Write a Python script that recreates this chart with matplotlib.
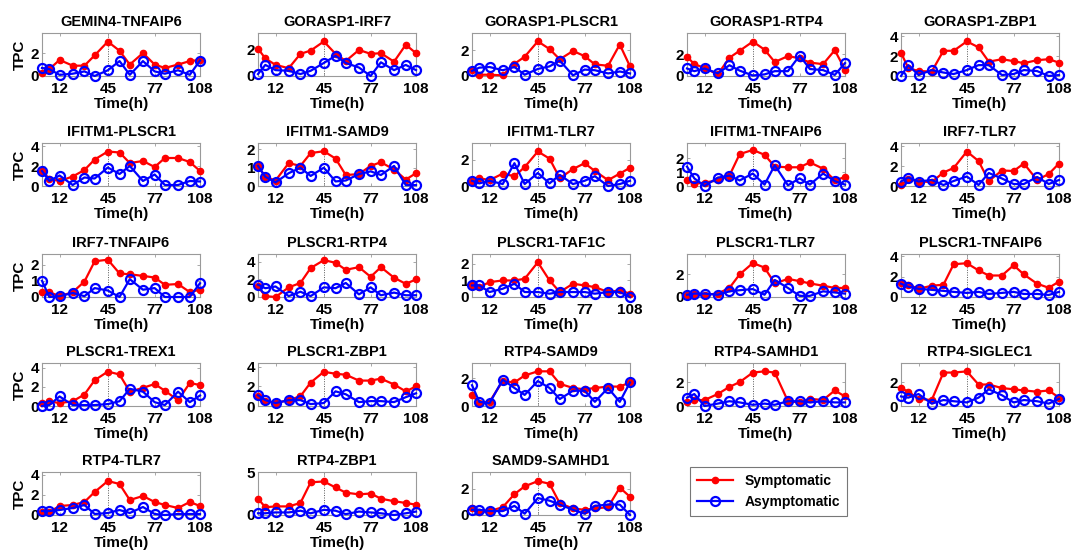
import matplotlib
matplotlib.use("Agg")
import matplotlib.pyplot as plt
from matplotlib.lines import Line2D

plt.rcParams['font.family'] = ['Liberation Sans', 'DejaVu Sans']
plt.rcParams['font.weight'] = 'bold'

hours = [0, 5, 12, 21, 29, 36, 45, 53, 60, 69, 77, 84, 93, 101, 108]
xtick_labels = [12, 45, 77, 108]

titles = ["GEMIN4-TNFAIP6", "GORASP1-IRF7", "GORASP1-PLSCR1", "GORASP1-RTP4", "GORASP1-ZBP1",
          "IFITM1-PLSCR1", "IFITM1-SAMD9", "IFITM1-TLR7", "IFITM1-TNFAIP6", "IRF7-TLR7",
          "IRF7-TNFAIP6", "PLSCR1-RTP4", "PLSCR1-TAF1C", "PLSCR1-TLR7", "PLSCR1-TNFAIP6",
          "PLSCR1-TREX1", "PLSCR1-ZBP1", "RTP4-SAMD9", "RTP4-SAMHD1", "RTP4-SIGLEC1",
          "RTP4-TLR7", "RTP4-ZBP1", "SAMD9-SAMHD1"]

symptomatic = [
    [0.3, 0.6, 1.4, 0.9, 0.9, 1.8, 3.0, 2.2, 1.0, 2.0, 1.0, 0.7, 1.0, 1.3, 1.4],
    [2.1, 1.35, 0.85, 0.6, 1.7, 1.95, 2.65, 1.7, 1.15, 2.0, 1.7, 1.75, 1.1, 2.4, 1.75],
    [0.5, 0.1, 0.1, 0.05, 0.95, 1.5, 2.7, 2.1, 1.3, 1.95, 1.55, 0.9, 0.8, 2.45, 0.75],
    [1.8, 1.1, 0.75, 0.15, 1.7, 2.35, 3.2, 2.45, 1.3, 1.85, 1.65, 1.25, 1.1, 2.4, 0.6],
    [2.35, 0.8, 0.5, 0.45, 2.55, 2.55, 3.5, 2.9, 1.45, 1.7, 1.5, 1.3, 1.6, 1.7, 1.35],
    [1.55, 0.7, 0.5, 0.95, 1.6, 2.65, 3.45, 3.35, 2.3, 2.5, 1.9, 2.8, 2.8, 2.4, 1.5],
    [1.1, 0.5, 0.3, 1.25, 1.1, 1.8, 1.9, 1.5, 0.6, 0.65, 1.1, 1.3, 0.9, 0.35, 0.7],
    [0.4, 0.6, 0.45, 0.95, 0.75, 1.45, 2.65, 2.1, 0.6, 1.3, 1.75, 1.15, 0.45, 0.95, 1.4],
    [0.4, 0.15, 0.25, 0.4, 0.75, 2.3, 2.6, 2.25, 1.4, 1.35, 1.35, 1.7, 1.25, 0.4, 0.65],
    [0.1, 0.7, 0.45, 0.4, 1.35, 1.8, 3.45, 2.5, 0.5, 1.55, 1.5, 2.25, 0.6, 1.2, 2.25],
    [0.3, 0.3, 0.05, 0.3, 0.95, 2.2, 2.3, 1.45, 1.4, 1.3, 1.2, 0.75, 0.8, 0.3, 0.45],
    [1.2, 0.1, 0.0, 1.1, 1.6, 3.3, 4.2, 3.9, 3.1, 3.4, 2.3, 3.4, 2.2, 1.5, 2.0],
    [0.7, 0.6, 0.9, 1.0, 1.0, 1.1, 2.1, 1.0, 0.3, 0.8, 0.7, 0.6, 0.3, 0.4, 0.2],
    [0.2, 0.3, 0.2, 0.3, 0.8, 2.0, 3.0, 2.6, 1.2, 1.6, 1.4, 1.2, 1.0, 0.8, 0.8],
    [1.4, 1.2, 0.8, 1.1, 1.2, 3.2, 3.3, 2.6, 2.1, 2.1, 3.1, 2.2, 1.3, 0.9, 1.5],
    [0.3, 0.5, 0.3, 0.5, 1.2, 2.7, 3.6, 3.3, 1.5, 1.9, 2.3, 1.6, 0.6, 2.4, 2.2],
    [1.0, 0.5, 0.3, 0.6, 1.0, 2.4, 3.5, 3.3, 3.2, 2.6, 2.6, 2.8, 2.2, 1.5, 2.0],
    [0.8, 0.2, 0.3, 1.8, 1.7, 2.2, 2.5, 2.5, 1.6, 1.3, 1.2, 1.3, 1.4, 1.4, 1.7],
    [0.3, 0.5, 0.5, 1.0, 1.6, 2.0, 2.8, 2.9, 2.8, 0.4, 0.3, 0.6, 0.5, 1.3, 0.8],
    [1.5, 1.2, 0.6, 0.5, 2.8, 2.8, 2.9, 1.8, 1.8, 1.5, 1.4, 1.3, 1.2, 1.3, 0.7],
    [0.3, 0.3, 0.9, 1.0, 1.3, 2.3, 3.4, 3.1, 1.5, 1.9, 1.3, 1.0, 0.7, 1.3, 0.9],
    [1.9, 0.9, 1.0, 1.0, 1.4, 3.8, 3.9, 3.2, 2.6, 2.4, 2.5, 1.9, 1.6, 1.4, 1.2],
    [0.5, 0.2, 0.3, 0.6, 1.6, 2.2, 2.6, 2.4, 0.9, 0.5, 0.4, 0.5, 0.6, 2.1, 1.4],
]

asymptomatic = [
    [0.7, 0.6, 0.1, 0.2, 0.4, 0.0, 0.5, 1.3, 0.1, 1.3, 0.4, 0.2, 0.5, 0.1, 1.35],
    [0.15, 0.85, 0.45, 0.4, 0.15, 0.4, 1.0, 1.55, 1.0, 0.65, 0.0, 1.05, 0.45, 0.85, 0.45],
    [0.4, 0.65, 0.7, 0.45, 0.7, 0.1, 0.55, 0.75, 1.2, 0.05, 0.5, 0.45, 0.2, 0.35, 0.2],
    [0.7, 0.45, 0.7, 0.25, 1.0, 0.5, 0.05, 0.15, 0.45, 0.45, 1.9, 0.65, 0.55, 0.1, 1.2],
    [0.0, 1.1, 0.1, 0.6, 0.35, 0.2, 0.6, 1.1, 1.1, 0.1, 0.2, 0.6, 0.5, 0.0, 0.1],
    [1.5, 0.5, 1.05, 0.1, 0.85, 0.75, 1.85, 1.2, 2.0, 0.5, 1.15, 0.1, 0.1, 0.5, 0.45],
    [1.1, 0.5, 0.2, 0.7, 1.0, 0.55, 1.0, 0.25, 0.3, 0.65, 0.8, 0.6, 1.1, 0.05, 0.05],
    [0.4, 0.2, 0.4, 0.15, 1.75, 0.15, 1.0, 0.2, 0.85, 0.15, 0.4, 0.75, 0.0, 0.15, 0.4],
    [1.4, 0.55, 0.0, 0.6, 0.75, 0.4, 0.9, 0.1, 1.5, 0.05, 0.55, 0.1, 0.9, 0.35, 0.1],
    [0.45, 0.85, 0.45, 0.6, 0.1, 0.5, 0.95, 0.1, 1.3, 0.75, 0.2, 0.2, 0.9, 0.2, 0.6],
    [1.0, 0.0, 0.05, 0.25, 0.05, 0.55, 0.4, 0.0, 1.1, 0.45, 0.55, 0.0, 0.0, 0.0, 0.85],
    [1.4, 1.0, 1.2, 0.1, 0.6, 0.1, 1.1, 1.0, 1.6, 0.3, 1.1, 0.2, 0.5, 0.2, 0.2],
    [0.7, 0.7, 0.3, 0.5, 0.8, 0.3, 0.3, 0.2, 0.3, 0.3, 0.3, 0.2, 0.3, 0.3, 0.0],
    [0.2, 0.3, 0.3, 0.2, 0.5, 0.6, 0.7, 0.2, 1.5, 0.8, 0.1, 0.1, 0.5, 0.4, 0.3],
    [1.3, 1.0, 0.8, 0.7, 0.6, 0.5, 0.4, 0.5, 0.3, 0.4, 0.5, 0.3, 0.3, 0.2, 0.5],
    [0.0, 0.1, 1.0, 0.1, 0.1, 0.1, 0.2, 0.5, 1.8, 1.5, 0.4, 0.1, 1.5, 0.4, 1.1],
    [1.1, 0.6, 0.3, 0.6, 0.6, 0.2, 0.3, 1.5, 1.2, 0.4, 0.5, 0.5, 0.4, 0.9, 1.3],
    [1.5, 0.3, 0.2, 1.9, 1.3, 0.8, 1.8, 1.3, 0.5, 1.1, 1.1, 0.3, 1.3, 0.3, 1.7],
    [0.7, 1.0, 0.0, 0.2, 0.4, 0.3, 0.1, 0.2, 0.1, 0.4, 0.4, 0.3, 0.4, 0.3, 0.3],
    [0.8, 0.7, 1.0, 0.2, 0.5, 0.4, 0.3, 0.7, 1.4, 0.9, 0.3, 0.5, 0.4, 0.2, 0.6],
    [0.4, 0.4, 0.5, 0.7, 1.0, 0.1, 0.2, 0.5, 0.2, 0.8, 0.1, 0.0, 0.1, 0.1, 0.1],
    [0.2, 0.2, 0.3, 0.3, 0.5, 0.2, 0.6, 0.5, 0.1, 0.4, 0.3, 0.2, 0.0, 0.2, 0.4],
    [0.4, 0.4, 0.3, 0.3, 0.7, 0.1, 1.3, 1.1, 0.8, 0.4, 0.1, 0.7, 0.8, 0.8, 0.0],
]

yticks_list = [
    [0, 2], [0, 2], [0, 2], [0, 2], [0, 2, 4],
    [0, 2, 4], [0, 1, 2], [0, 2], [0, 1, 2], [0, 2, 4],
    [0, 1, 2], [0, 2, 4], [0, 1, 2], [0, 2], [0, 2, 4],
    [0, 2, 4], [0, 2, 4], [0, 2], [0, 2], [0, 2],
    [0, 2, 4], [0, 5], [0, 2],
]
ytops = [3.75, 3.3, 3.35, 4.0, 4.35,
         4.3, 2.35, 3.3, 3.1, 4.3,
         2.65, 4.9, 2.6, 3.8, 4.2,
         4.5, 4.4, 3.1, 3.6, 3.6,
         4.3, 4.9, 3.3]

W, H = 1072, 555
fig = plt.figure(figsize=(W / 100, H / 100), dpi=100)

col_left = [42, 258, 472, 687, 901]
ax_w = 158
row_top = [33, 143, 254, 363, 472]
ax_h = 43

frame_color = '#9a9a9a'
for i, title in enumerate(titles):
    r, c = divmod(i, 5)
    ax = fig.add_axes([col_left[c] / W, 1 - (row_top[r] + ax_h) / H, ax_w / W, ax_h / H])
    ax.axvline(45, color='#555555', lw=0.7, ls=(0, (1, 1.5)), zorder=1)
    ax.plot(hours, symptomatic[i], '-o', color='#ff0000', lw=1.6, ms=4.5,
            mfc='#ff0000', mec='#ff0000', clip_on=False, zorder=3)
    ax.plot(hours, asymptomatic[i], '-o', color='#0000ff', lw=1.6, ms=6.5,
            mfc='none', mec='#0000ff', mew=1.6, clip_on=False, zorder=4)
    ax.set_xlim(0, 108)
    ax.set_ylim(0, ytops[i])
    ax.set_xticks(xtick_labels)
    ax.set_xticklabels([str(v) for v in xtick_labels])
    ax.set_yticks(yticks_list[i])
    ax.set_yticklabels([str(v) for v in yticks_list[i]])
    ax.tick_params(direction='in', length=2.5, width=0.6, color=frame_color,
                   top=True, right=True, labelsize=11)
    ax.tick_params(axis='x', pad=4)
    ax.tick_params(axis='y', pad=2)
    for lab in ax.get_xticklabels() + ax.get_yticklabels():
        lab.set_fontweight('bold')
    for sp in ax.spines.values():
        sp.set_color(frame_color)
        sp.set_linewidth(0.8)
    ax.set_title(title, fontsize=10.5, fontweight='bold', pad=5)
    ax.set_xlabel('Time(h)', fontsize=11, fontweight='bold', labelpad=1)
    if c == 0:
        ax.set_ylabel('TPC', fontsize=11, fontweight='bold', labelpad=3)

# legend
handles = [
    Line2D([], [], color='#ff0000', marker='o', lw=1.6, ms=4.5, mfc='#ff0000', mec='#ff0000'),
    Line2D([], [], color='#0000ff', marker='o', lw=1.6, ms=6.5, mfc='none', mec='#0000ff', mew=1.6),
]
leg = fig.legend(handles, ['Symptomatic', 'Asymptomatic'],
                 loc='upper left', bbox_to_anchor=(690 / W, 1 - 467 / H),
                 frameon=True, fancybox=False, fontsize=10, handlelength=2.6,
                 borderpad=0.5, labelspacing=0.5, handletextpad=0.8, borderaxespad=0)
leg.get_frame().set_edgecolor('#555555')
leg.get_frame().set_linewidth(0.8)
for t in leg.get_texts():
    t.set_fontweight('bold')

fig.savefig('out.png', dpi=100)
